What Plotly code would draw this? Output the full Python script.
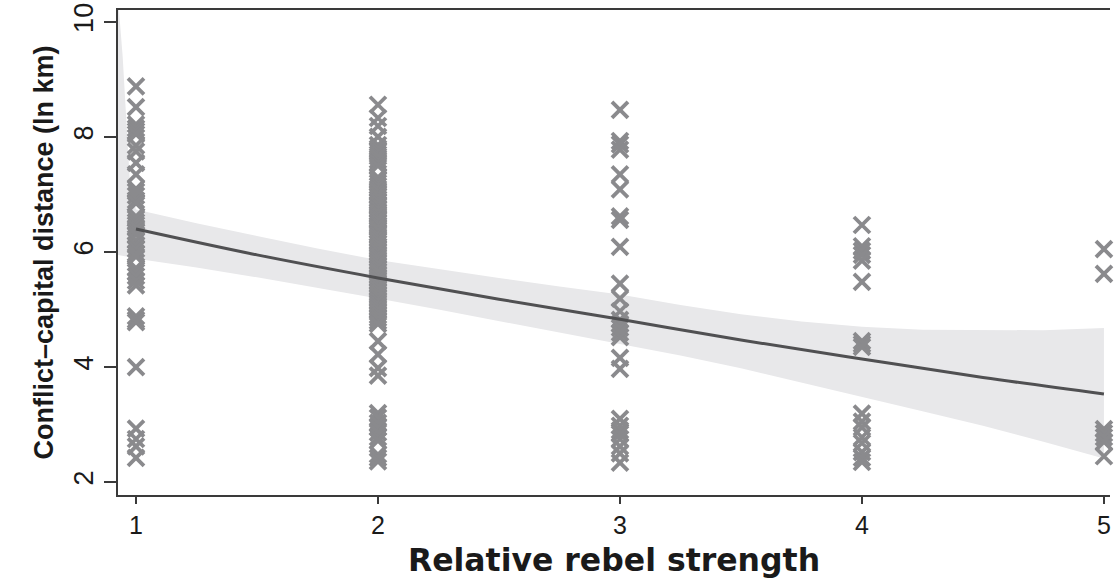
import plotly.graph_objects as go

# Relative rebel strength categories and observed conflict-capital distances (ln km)
strength_levels = [1, 2, 3, 4, 5]
dist_s1 = [8.88, 8.52, 8.22, 8.15, 8.1, 8.05, 7.85, 7.75, 7.55, 7.35, 7.1, 7.05, 6.98, 6.9, 6.85,
           6.62, 6.58, 6.52, 6.47, 6.42, 6.35, 6.3, 6.2, 6.12, 6.05, 5.98, 5.92, 5.72, 5.65, 5.58,
           5.5, 5.42, 4.88, 4.82, 4.78, 4.0, 2.93, 2.75, 2.62, 2.42]
dist_s2 = [8.56, 8.33, 8.19, 8.0, 7.86, 7.8, 7.75, 7.7, 7.66, 7.6, 7.55, 7.5, 7.3, 7.25, 7.2,
           7.15, 7.1, 7.05, 7.0, 6.97, 6.92, 6.88, 6.83, 6.8, 6.75, 6.7, 6.66, 6.62, 6.58, 6.55,
           6.5, 6.46, 6.42, 6.38, 6.33, 6.3, 6.25, 6.2, 6.15, 6.1, 6.05, 6.0, 5.95, 5.9, 5.85,
           5.8, 5.75, 5.7, 5.66, 5.6, 5.55, 5.5, 5.45, 5.4, 5.35, 5.3, 5.25, 5.2, 5.15, 5.1,
           5.05, 5.0, 4.95, 4.9, 4.85, 4.8, 4.75, 4.45, 4.22, 3.98, 3.85,
           3.2, 3.12, 3.03, 2.95, 2.86, 2.78, 2.72, 2.48, 2.42, 2.36]
dist_s3 = [8.47, 7.93, 7.87, 7.78, 7.35, 7.09, 6.62, 6.56, 6.09, 5.45, 5.19, 4.97, 4.82, 4.75,
           4.68, 4.6, 4.52, 4.16, 3.97, 3.1, 2.98, 2.9, 2.84, 2.75, 2.62, 2.5, 2.34]
dist_s4 = [6.47, 6.1, 6.02, 5.95, 5.85, 5.48, 4.45, 4.4, 4.35, 3.19, 3.05, 2.95, 2.78, 2.68,
           2.52, 2.42, 2.35]
dist_s5 = [6.05, 5.62, 2.92, 2.85, 2.78, 2.7, 2.45]

# Fitted values and 95% confidence band
fit_x = [1, 1.5, 2, 2.5, 3, 3.5, 4, 4.5, 5]
fit_y = [6.40, 5.95, 5.55, 5.18, 4.83, 4.47, 4.14, 3.82, 3.53]
band_x = [0.926, 0.945, 0.96, 0.975, 1, 1.25, 1.5, 1.75, 2, 2.25, 2.5, 2.75, 3,
          3.25, 3.5, 3.75, 4, 4.25, 4.5, 4.75, 5]
band_upper = [10.4, 9.4, 8.3, 7.2, 6.74, 6.5, 6.28, 6.06, 5.86, 5.7, 5.55, 5.4, 5.26,
              5.08, 4.92, 4.79, 4.70, 4.65, 4.64, 4.64, 4.68]
band_lower = [5.95, 5.93, 5.92, 5.90, 5.88, 5.73, 5.56, 5.38, 5.19, 5.0, 4.81, 4.61, 4.40,
              4.2, 3.98, 3.74, 3.48, 3.23, 2.98, 2.70, 2.41]

x_ticks = [1, 2, 3, 4, 5]
y_ticks = [2, 4, 6, 8, 10]

columns = [dist_s1, dist_s2, dist_s3, dist_s4, dist_s5]
px, py = [], []
for lvl, vals in zip(strength_levels, columns):
    px += [lvl] * len(vals)
    py += vals

fig = go.Figure()
fig.add_trace(go.Scatter(
    x=band_x + band_x[::-1], y=band_upper + band_lower[::-1],
    fill="toself", fillcolor="#e8e8ea", line=dict(width=0),
    mode="lines", hoverinfo="skip", showlegend=False))
fig.add_trace(go.Scatter(
    x=px, y=py, mode="markers", showlegend=False, cliponaxis=False,
    marker=dict(symbol="x-thin", size=16, color="#8a8a8d",
                line=dict(width=3.8, color="#8a8a8d"))))
fig.add_trace(go.Scatter(
    x=fit_x, y=fit_y, mode="lines", showlegend=False,
    line=dict(color="#505052", width=3, shape="spline")))

axis_common = dict(showgrid=False, zeroline=False, showline=True, linecolor="#3a3a3a",
                   linewidth=2, ticks="outside", tickwidth=1.6, tickcolor="#3a3a3a",
                   ticklabeloverflow="allow")

fig.update_layout(
    width=1114, height=580,
    margin=dict(l=118, r=3, t=6, b=85),
    paper_bgcolor="white", plot_bgcolor="white",
    font=dict(family="Liberation Sans, Arial, sans-serif", color="#1a1a1a"),
    xaxis=dict(range=[0.9257, 5.025], tickvals=x_ticks, ticktext=[str(t) for t in x_ticks],
               tickfont=dict(size=25), ticklen=7, mirror=True, **axis_common,
               title=dict(text="<b>Relative rebel strength</b>", standoff=11,
                          font=dict(size=31.5, family="DejaVu Sans, Liberation Sans, sans-serif"))),
    yaxis=dict(range=[1.776, 10.207], tickvals=y_ticks, ticktext=[str(t) for t in y_ticks],
               tickangle=-90, tickfont=dict(size=27), ticklen=12, **axis_common,
               title=dict(text="<b>Conflict–capital distance (ln km)</b>", standoff=8,
                          font=dict(size=27, family="Liberation Sans Narrow, Arial Narrow, Liberation Sans, sans-serif"))),
)

fig.write_html("out.html", config={"displayModeBar": False},
               post_script="document.body.style.margin='0';")
